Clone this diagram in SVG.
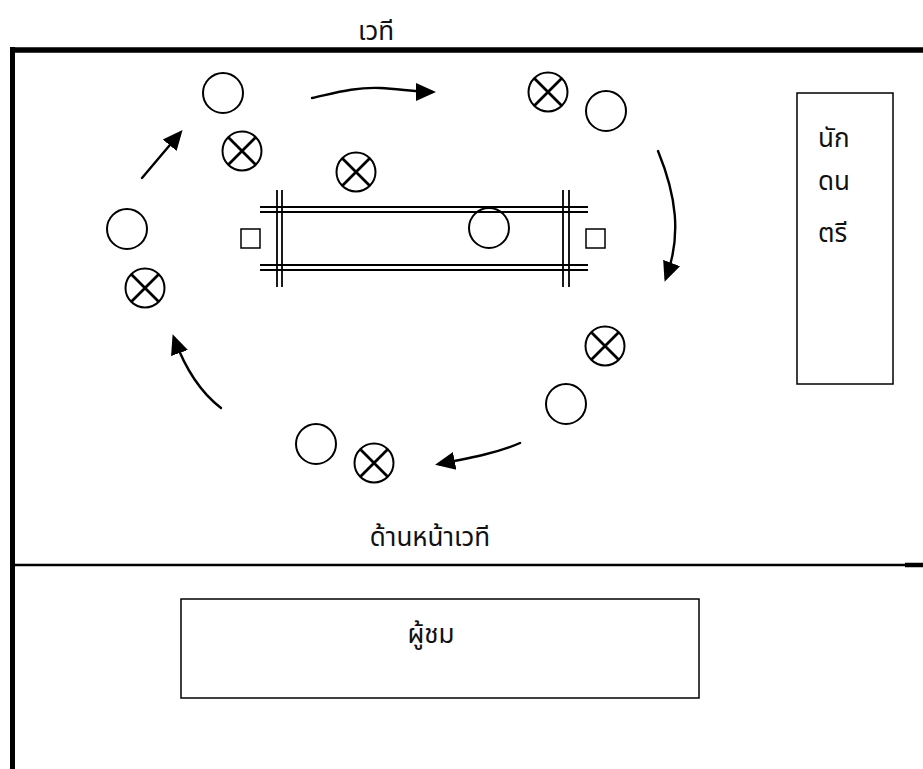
<svg xmlns="http://www.w3.org/2000/svg" xmlns:xlink="http://www.w3.org/1999/xlink" width="923" height="769" viewBox="0 0 923 769">
<style>
  .ln { fill: none; stroke: #000; }
  .circ { fill: none; stroke: #000; stroke-width: 2; }
  .xm { fill: none; stroke: #000; stroke-width: 2.8; stroke-linecap: round; }
  .dbl { stroke: #000; stroke-width: 1.8; fill: none; }
  .box { fill: none; stroke: #000; stroke-width: 1.5; }
  .arr { fill: none; stroke: #000; stroke-width: 2.4; stroke-linecap: round; marker-end: url(#ah); }
  text { font-family: "Noto Sans Thai", "Noto Sans", "DejaVu Sans", sans-serif; font-size: 26px; fill: #111; }
</style>
<defs>
  <marker id="ah" viewBox="0 0 10 10" refX="8" refY="5" markerUnits="userSpaceOnUse" markerWidth="20" markerHeight="20" orient="auto">
    <path d="M0,0.5 L10,5 L0,9.5 z" fill="#000"/>
  </marker>
  <g id="pc"><circle class="circ" r="20"/></g>
  <g id="px"><circle class="circ" r="19.5"/><path class="xm" d="M-13,-13 L13,13 M13,-13 L-13,13"/></g>
</defs>
<rect width="923" height="769" fill="#fff"/>

<g id="frame">
  <line class="ln" x1="10" y1="50" x2="923" y2="50" stroke-width="5.5"/>
  <line class="ln" x1="12.5" y1="47" x2="12.5" y2="769" stroke-width="5"/>
  <line class="ln" x1="12" y1="565" x2="923" y2="565" stroke-width="2.4"/>
  <line class="ln" x1="905" y1="565" x2="923" y2="565" stroke-width="4.5"/>
</g>

<g id="label-stage"><text x="376" y="40" text-anchor="middle">เวที</text></g>
<g id="label-front"><text x="430" y="546" text-anchor="middle">ด้านหน้าเวที</text></g>

<g id="mat">
  <line class="dbl" x1="260" y1="207" x2="588" y2="207"/>
  <line class="dbl" x1="260" y1="212" x2="588" y2="212"/>
  <line class="dbl" x1="260" y1="265" x2="588" y2="265"/>
  <line class="dbl" x1="260" y1="270" x2="588" y2="270"/>
  <line class="dbl" x1="277" y1="190" x2="277" y2="287"/>
  <line class="dbl" x1="282" y1="190" x2="282" y2="287"/>
  <line class="dbl" x1="563" y1="190" x2="563" y2="287"/>
  <line class="dbl" x1="569" y1="190" x2="569" y2="287"/>
</g>
<g id="square-left"><rect class="box" x="241" y="229" width="19" height="19"/></g>
<g id="square-right"><rect class="box" x="586" y="229" width="19" height="19"/></g>

<g id="c1"><use xlink:href="#pc" x="223" y="93"/></g>
<g id="c2"><use xlink:href="#pc" x="606" y="111"/></g>
<g id="c3"><use xlink:href="#pc" x="127" y="229"/></g>
<g id="c4"><use xlink:href="#pc" x="489" y="228"/></g>
<g id="c5"><use xlink:href="#pc" x="566" y="404"/></g>
<g id="c6"><use xlink:href="#pc" x="316" y="444"/></g>

<g id="x1"><use xlink:href="#px" x="242" y="151"/></g>
<g id="x2"><use xlink:href="#px" x="356" y="172"/></g>
<g id="x3"><use xlink:href="#px" x="548" y="92"/></g>
<g id="x4"><use xlink:href="#px" x="145" y="288"/></g>
<g id="x5"><use xlink:href="#px" x="605" y="346"/></g>
<g id="x6"><use xlink:href="#px" x="374" y="463"/></g>

<g id="musicians">
  <rect class="box" x="797" y="93" width="96" height="291"/>
  <text x="818" y="147">นัก</text>
  <text x="818" y="190">ดน</text>
  <text x="818" y="242">ตรี</text>
</g>

<g id="audience">
  <rect class="box" x="181" y="599" width="518" height="99"/>
  <text x="431" y="643" text-anchor="middle">ผู้ชม</text>
</g>

<g id="connectors">
  <path class="arr" d="M312,98 C335,93 355,87 380,88 C400,89 415,92 432,92"/>
  <path class="arr" d="M658,151 C676,195 682,235 666,278"/>
  <path class="arr" d="M520,443 C500,452 475,457 439,464"/>
  <path class="arr" d="M221,408 C200,392 185,368 174,338"/>
  <path class="arr" d="M142,178 L180,133"/>
</g>
</svg>
